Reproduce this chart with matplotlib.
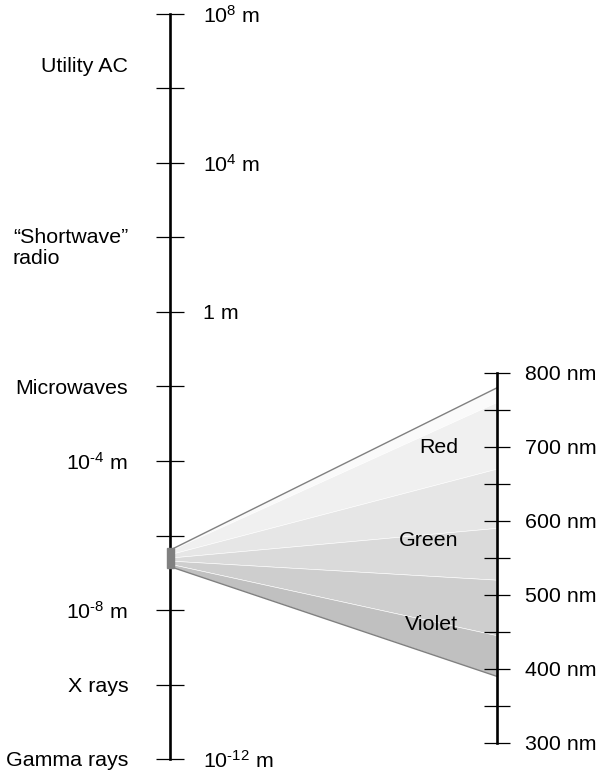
import numpy as np
import matplotlib
matplotlib.use("Agg")
import matplotlib.pyplot as plt

plt.rcParams['font.family'] = ['Liberation Sans', 'DejaVu Sans']
plt.rcParams['mathtext.fontset'] = 'custom'
plt.rcParams['mathtext.rm'] = 'Liberation Sans'
plt.rcParams['mathtext.it'] = 'Liberation Sans'

# left scale: wavelength in metres (log)
ticks_m = np.logspace(-12, 8, 11)
names = ['Utility AC', '\u201cShortwave\u201d\nradio', 'Microwaves', 'X rays', 'Gamma rays']
names_m = [4.5e6, 1e2, 1e-2, 1e-10, 1e-12]
right_lbl = [r'10$^{8}$ m', r'10$^{4}$ m', '1 m', '10$^{\u2010 12}$ m']
right_lbl_m = [1e8, 1e4, 1, 1e-12]
left_lbl = ['10$^{\u2010 4}$ m', '10$^{\u2010 8}$ m']
left_lbl_m = [1e-4, 1e-8]

# right scale: visible light in nm
ticks_nm = np.arange(300, 801, 50)
nm_labels = [300, 400, 500, 600, 700, 800]
band_edges_nm = [780, 760, 670, 590, 520, 445, 390]
band_colors = ['#fafafa', '#f0f0f0', '#e6e6e6', '#dadada', '#cecece', '#c0c0c0']
wedge_left_m = (10**-6.34, 10**-6.87)
colour_names = ['Red', 'Green', 'Violet']
colour_nm = [702, 577, 463]

W, H = 598, 771
fig = plt.figure(figsize=(W / 100, H / 100), dpi=100)
ax1 = fig.add_axes([170 / W, (H - 759) / H, 327 / W, 745 / H])
ax1.set_yscale('log')
ax1.set_ylim(1e-12, 1e8)
ax1.set_xlim(0, 1)
for s in ['top', 'right', 'bottom']:
    ax1.spines[s].set_visible(False)
ax1.spines['left'].set_linewidth(1.9)
ax1.set_xticks([])
ax1.set_yticks(ticks_m)
ax1.minorticks_off()
ax1.tick_params(axis='y', direction='inout', length=20, width=0.9, labelleft=False)
ax1.patch.set_visible(False)

ax2 = ax1.twinx()
px_per_nm = (743 - 373) / 500
ax2.set_ylim(300 - (759 - 743) / px_per_nm, 800 + (373 - 14) / px_per_nm)
for s in ['top', 'left', 'bottom']:
    ax2.spines[s].set_visible(False)
ax2.spines['right'].set_bounds(300, 800)
ax2.spines['right'].set_linewidth(1.9)
ax2.set_yticks(ticks_nm)
ax2.tick_params(axis='y', direction='inout', length=19, width=0.9, labelright=False)

fs = 15.4
t1 = ax1.get_yaxis_transform()
t2 = ax2.get_yaxis_transform()
for n, v in zip(names, names_m):
    if '\n' in n:
        ax1.annotate(n, xy=(-0.128, v), xycoords=t1, xytext=(0, 7), textcoords='offset points',
                     ha='right', va='top', multialignment='left', fontsize=fs, linespacing=1.15)
    else:
        ax1.text(-0.128, v, n, transform=t1, ha='right', va='center_baseline', fontsize=fs)
for n, v in zip(left_lbl, left_lbl_m):
    ax1.text(-0.128, v, n, transform=t1, ha='right', va='center_baseline', fontsize=fs)
for n, v in zip(right_lbl, right_lbl_m):
    ax1.text(0.101, v, n, transform=t1, ha='left', va='center_baseline', fontsize=fs)
for v in nm_labels:
    ax2.text(1.0856, v, f'{v} nm', transform=t2, ha='left', va='center_baseline', fontsize=fs)
for n, v in zip(colour_names, colour_nm):
    ax2.text(0.881, v, n, ha='right', va='center_baseline', fontsize=fs, zorder=5)

# wedge from the left scale to the visible band
def left_in_nm(m):
    disp = ax1.transData.transform((0, m))
    return ax2.transData.inverted().transform(disp)[1]

ytop, ybot = left_in_nm(wedge_left_m[0]), left_in_nm(wedge_left_m[1])
x0 = 4 / 327
def left_y(nm):
    return ytop + (nm - band_edges_nm[0]) / (band_edges_nm[-1] - band_edges_nm[0]) * (ybot - ytop)

for i, c in enumerate(band_colors):
    a, b = band_edges_nm[i], band_edges_nm[i + 1]
    ax2.fill([x0, 1, 1, x0], [left_y(a), a, b, left_y(b)], color=c, ec='white', lw=0.4,
             clip_on=False, zorder=1)
ax2.plot([x0, 1], [ytop, band_edges_nm[0]], color='#808080', lw=1, clip_on=False, zorder=2)
ax2.plot([x0, 1], [ybot, band_edges_nm[-1]], color='#808080', lw=1, clip_on=False, zorder=2)
ax2.fill([-3 / 327, x0, x0, -3 / 327], [ytop, ytop, ybot, ybot], color='#808080',
         clip_on=False, zorder=6)

fig.savefig('out.png', dpi=100)
